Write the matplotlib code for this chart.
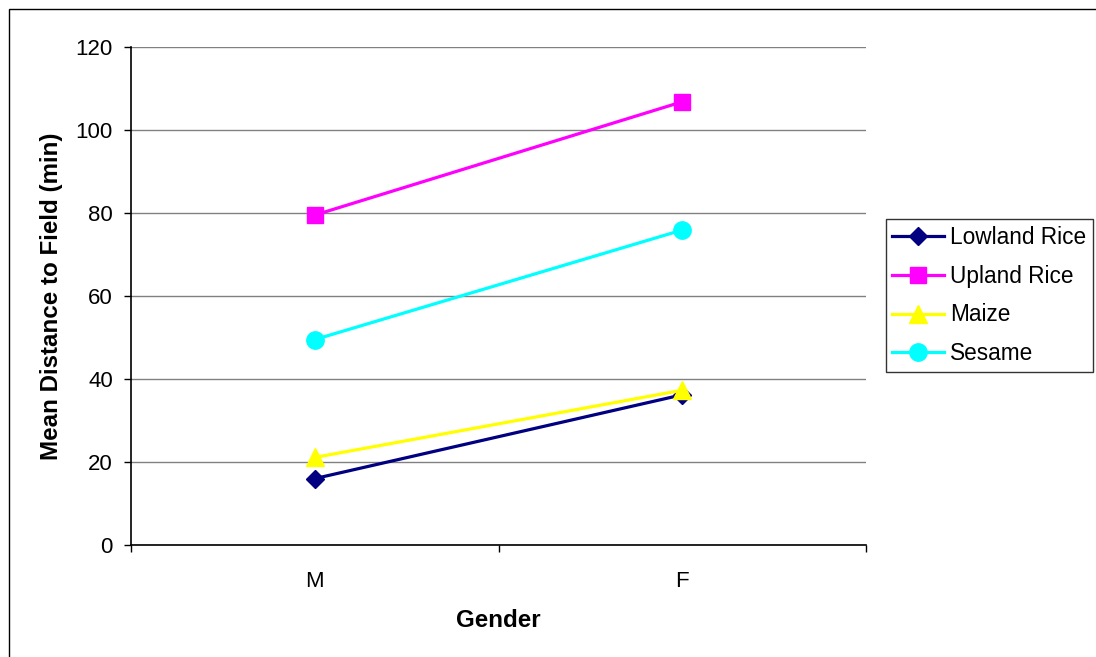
import matplotlib
matplotlib.use("Agg")
import matplotlib.pyplot as plt
from matplotlib.patches import Rectangle

plt.rcParams['font.family'] = ['Liberation Sans', 'DejaVu Sans']

categories = ["M", "F"]
series_names = ["Lowland Rice", "Upland Rice", "Maize", "Sesame"]
lowland_rice = [16.0, 36.2]
upland_rice = [79.5, 106.8]
maize = [21.1, 37.3]
sesame = [49.5, 75.9]
y_ticks = [0, 20, 40, 60, 80, 100, 120]

values = [lowland_rice, upland_rice, maize, sesame]
colors = ["#000080", "#FF00FF", "#FFFF00", "#00FFFF"]
markers = ["D", "s", "^", "o"]
msizes = [9.5, 12, 13.5, 12.5]

W, H = 1096, 657
fig = plt.figure(figsize=(W / 100, H / 100), dpi=100)
ax = fig.add_axes([131 / W, (H - 545) / H, (866 - 131) / W, (545 - 47) / H])

x = list(range(len(categories)))
for name, vals, c, m, ms in zip(series_names, values, colors, markers, msizes):
    ax.plot(x, vals, color=c, lw=2.3, marker=m, markersize=ms,
            markerfacecolor=c, markeredgecolor=c, label=name, zorder=3)

ax.set_xlim(-0.5, len(categories) - 0.5)
ax.set_ylim(0, 120)
ax.set_yticks(y_ticks)
ax.yaxis.grid(True, color="#808080", lw=1)
ax.set_axisbelow(True)
ax.spines['top'].set_visible(False)
ax.spines['right'].set_visible(False)
ax.spines['left'].set_linewidth(1.2)
ax.spines['bottom'].set_linewidth(1.2)

ax.set_xticks(x)
ax.set_xticklabels(categories)
ax.set_xticks([i - 0.5 for i in range(len(categories) + 1)], minor=True)
ax.tick_params(axis='x', which='major', length=0, pad=19, labelsize=16)
ax.tick_params(axis='x', which='minor', length=5, width=1, direction='out')
ax.tick_params(axis='y', length=5, width=1, pad=8, labelsize=16)

ax.set_xlabel("Gender", fontsize=17.4, fontweight='bold', labelpad=12)
ax.set_ylabel("Mean Distance to Field (min)", fontsize=17.4, fontweight='bold', labelpad=9)

leg = fig.legend(loc='upper left', bbox_to_anchor=(885.5 / W, (H - 219) / H),
                 frameon=True, fancybox=False, fontsize=16.3,
                 handlelength=2.3, handletextpad=0.25, labelspacing=0.7,
                 borderpad=0.3, borderaxespad=0)
leg.get_frame().set_edgecolor("black")
leg.get_frame().set_linewidth(1.0)

border = Rectangle((8.5 / W, -0.1), 1.2, (H - 9) / H + 0.1, transform=fig.transFigure,
                   fill=False, edgecolor="black", lw=1.0)
fig.patches.append(border)

fig.savefig("out.png", dpi=100)
